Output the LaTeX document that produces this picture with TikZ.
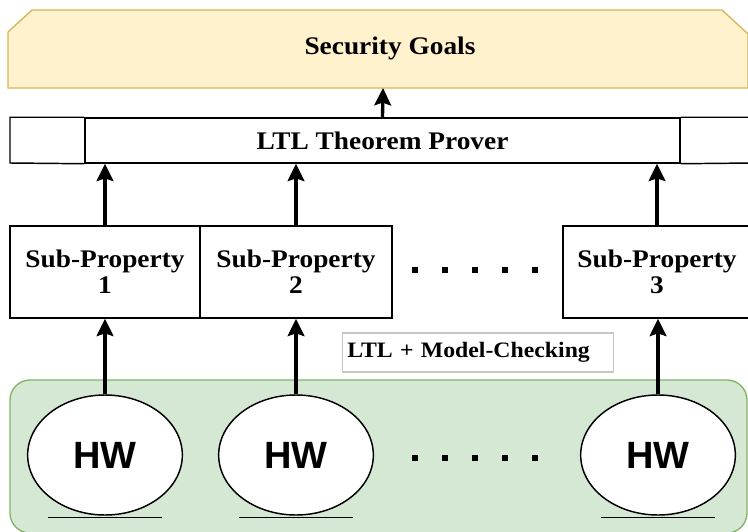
\documentclass[tikz,border=0pt]{standalone}
\usepackage{fontspec}
\setmainfont{Liberation Serif}[FakeStretch=1.08]
\newfontfamily\hwfont{Liberation Sans}
\usetikzlibrary{shapes.geometric,arrows.meta}
\definecolor{goalfill}{HTML}{FFF2CC}
\definecolor{goalline}{HTML}{D6B656}
\definecolor{hwfill}{HTML}{D5E8D4}
\definecolor{hwline}{HTML}{82B366}
\tikzset{
	box/.style={draw,line width=1.1pt,inner sep=0pt,align=center,font=\fontsize{19}{19.5}\selectfont\bfseries},
	hw/.style={draw,ellipse,fill=white,line width=1.1pt,inner sep=0pt,minimum width=116pt,minimum height=90pt,font=\hwfont\fontsize{28.5}{30}\selectfont\bfseries},
	up/.style={line width=2.5pt,-{Stealth[length=13pt,width=12.5pt,inset=2pt]}},
}
\begin{document}
\begin{tikzpicture}[x=0.75pt,y=-0.75pt]
		\useasboundingbox (0,0) rectangle (748,531);
		\draw[goalline,fill=goalfill,line width=1pt] (8,32) -- (32,10) -- (722,10) -- (748,34) -- (748,88) -- (8,88) -- cycle;
		\node[font=\fontsize{19}{19}\selectfont\bfseries] (goals) at (390,48) {Security Goals};
		\coordinate (goalsbase) at (383,88);
		\node[box,minimum width=446.25pt,minimum height=33.75pt] (ltl) at (382.5,140.5) {LTL Theorem Prover};
		\draw[line width=1.1pt] (ltl.north west) -| (10,163) -- (ltl.south west);
		\draw[line width=1.1pt] (ltl.north east) -| (752,163) -- (ltl.south east);
		\foreach \n/\x/\w/\t in {sp1/105/142.5pt/1,sp2/296/144pt/2,sp3/657/141pt/3}
		{
			\node[box,minimum width=\w,minimum height=69pt] (\n) at (\x,272) {Sub-Property\\\t};
		}
		\node[draw=gray!45,line width=0.8pt,minimum width=202.5pt,minimum height=29.25pt,text width=196pt,align=left,font=\fontsize{16.5}{17}\selectfont\bfseries] (mc) at (478,352.5) {LTL + Model-Checking};
		\draw[hwline,fill=hwfill,line width=1pt,rounded corners=15pt] (10,380) rectangle (747,533);
		\foreach \n/\x in {hw1/105,hw2/296,hw3/658}
		{
			\node[hw] (\n) at (\x,455) {HW};
			\draw[line width=1.1pt] (\n.south) ++(-57,2) -- ++(114,0);
		}
		\foreach \y in {270,458}
		{
			\foreach \i in {0,...,4}
			{
				\fill (415+30*\i,\y) ++(-3,-3) rectangle ++(6,6);
			}
		}
		\foreach \i in {1,2,3}
		{
			\draw[up] (hw\i.north) -- (hw\i.north |- sp\i.south);
			\draw[up] (sp\i.north) -- (sp\i.north |- ltl.south);
		}
		\draw[up] (ltl.north) -- (goalsbase);
\end{tikzpicture}
\end{document}
